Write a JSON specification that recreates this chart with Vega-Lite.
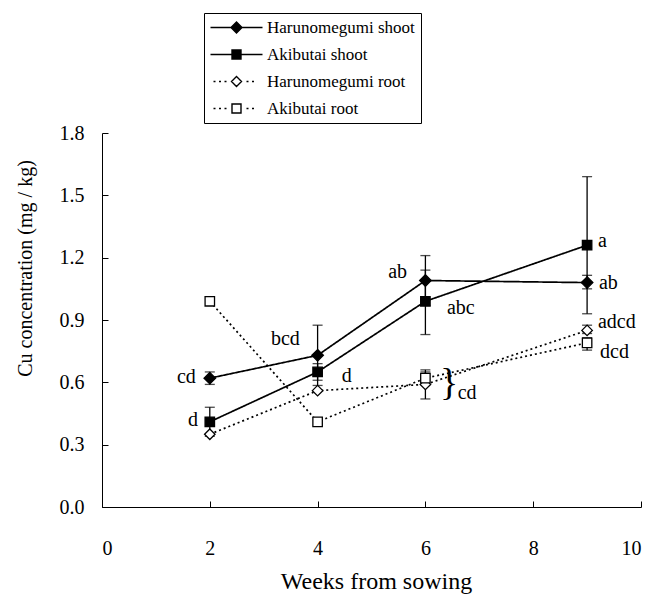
{
  "$schema": "https://vega.github.io/schema/vega-lite/v6.json",
  "width": 539,
  "height": 374,
  "autosize": {"type": "none"},
  "padding": {"left": 102, "top": 133, "right": 10, "bottom": 88},
  "background": "white",
  "config": {
    "view": {"stroke": null},
    "font": "Liberation Serif",
    "axis": {
      "grid": false,
      "domainColor": "black",
      "domainWidth": 1,
      "tickColor": "black",
      "tickWidth": 1,
      "tickSize": -6,
      "labelFont": "Liberation Serif",
      "labelFontSize": 20,
      "labelColor": "black",
      "titleFont": "Liberation Serif",
      "titleColor": "black",
      "titleFontWeight": "normal"
    }
  },
  "datasets": {
    "main": [
      {"series": "Harunomegumi shoot", "week": 2, "val": 0.62},
      {"series": "Harunomegumi shoot", "week": 4, "val": 0.73},
      {"series": "Harunomegumi shoot", "week": 6, "val": 1.09},
      {"series": "Harunomegumi shoot", "week": 9, "val": 1.08},
      {"series": "Akibutai shoot", "week": 2, "val": 0.41},
      {"series": "Akibutai shoot", "week": 4, "val": 0.65},
      {"series": "Akibutai shoot", "week": 6, "val": 0.99},
      {"series": "Akibutai shoot", "week": 9, "val": 1.26},
      {"series": "Harunomegumi root", "week": 2, "val": 0.35},
      {"series": "Harunomegumi root", "week": 4, "val": 0.56},
      {"series": "Harunomegumi root", "week": 6, "val": 0.59},
      {"series": "Harunomegumi root", "week": 9, "val": 0.85},
      {"series": "Akibutai root", "week": 2, "val": 0.99},
      {"series": "Akibutai root", "week": 4, "val": 0.41},
      {"series": "Akibutai root", "week": 6, "val": 0.62},
      {"series": "Akibutai root", "week": 9, "val": 0.79}
    ],
    "err": [
      {"series": "Harunomegumi shoot", "week": 2, "val": 0.59, "hi": 0.65},
      {"series": "Harunomegumi shoot", "week": 4, "val": 0.585, "hi": 0.875},
      {"series": "Harunomegumi shoot", "week": 6, "val": 0.97, "hi": 1.21},
      {"series": "Harunomegumi shoot", "week": 9, "val": 1.05, "hi": 1.115},
      {"series": "Akibutai shoot", "week": 2, "val": 0.34, "hi": 0.48},
      {"series": "Akibutai shoot", "week": 4, "val": 0.61, "hi": 0.69},
      {"series": "Akibutai shoot", "week": 6, "val": 0.83, "hi": 1.14},
      {"series": "Akibutai shoot", "week": 9, "val": 0.93, "hi": 1.59},
      {"series": "Harunomegumi root", "week": 6, "val": 0.52, "hi": 0.66},
      {"series": "Harunomegumi root", "week": 9, "val": 0.835, "hi": 0.875},
      {"series": "Akibutai root", "week": 6, "val": 0.59, "hi": 0.65},
      {"series": "Akibutai root", "week": 9, "val": 0.755, "hi": 0.815}
    ],
    "labR": [
      {"week": 1.74, "val": 0.625, "txt": "cd"},
      {"week": 1.78, "val": 0.42, "txt": "d"},
      {"week": 3.67, "val": 0.81, "txt": "bcd"},
      {"week": 5.66, "val": 1.13, "txt": "ab"}
    ],
    "labL": [
      {"week": 4.45, "val": 0.63, "txt": "d"},
      {"week": 6.4, "val": 0.96, "txt": "abc"},
      {"week": 9.2, "val": 1.28, "txt": "a"},
      {"week": 9.22, "val": 1.08, "txt": "ab"},
      {"week": 9.2, "val": 0.89, "txt": "adcd"},
      {"week": 9.24, "val": 0.745, "txt": "dcd"},
      {"week": 6.6, "val": 0.55, "txt": "cd"}
    ],
    "brace": [
      {"week": 6.44, "val": 0.59, "txt": "}"}
    ],
    "leg": [
      {"series": "Harunomegumi shoot"},
      {"series": "Akibutai shoot"},
      {"series": "Harunomegumi root"},
      {"series": "Akibutai root"}
    ]
  },
  "layer": [
    {
      "data": {"name": "main"},
      "mark": {"type": "line", "stroke": "black", "strokeWidth": 1.7},
      "encoding": {
        "x": {
          "field": "week", "type": "quantitative", "title": "Weeks from sowing",
          "scale": {"domain": [0, 10], "nice": false, "zero": false},
          "axis": {
            "values": [0, 2, 4, 6, 8, 10], "format": "d",
            "labelBaseline": "middle", "labelPadding": 47,
            "titleFontSize": 24,
            "titleX": 274, "titleY": 74, "titleBaseline": "middle"
          }
        },
        "y": {
          "field": "val", "type": "quantitative", "title": "Cu concentration (mg / kg)",
          "scale": {"domain": [0, 1.8], "nice": false, "zero": false},
          "axis": {
            "values": [0, 0.3, 0.6, 0.9, 1.2, 1.5, 1.8], "format": ".1f",
            "labelPadding": 24,
            "titleFontSize": 20,
            "titleX": -77, "titleY": 135, "titleBaseline": "middle", "titleAngle": -90
          }
        },
        "strokeDash": {
          "field": "series", "type": "nominal", "legend": null,
          "scale": {
            "domain": ["Harunomegumi shoot", "Akibutai shoot", "Harunomegumi root", "Akibutai root"],
            "range": [[1, 0], [1, 0], [2, 3], [2, 3]]
          }
        }
      }
    },
    {
      "data": {"name": "err"},
      "mark": {"type": "rule", "stroke": "black", "strokeWidth": 1.3},
      "encoding": {
        "x": {"field": "week", "type": "quantitative", "title": "Weeks from sowing"},
        "y": {"field": "val", "type": "quantitative", "title": "Cu concentration (mg / kg)"},
        "y2": {"field": "hi"}
      }
    },
    {
      "data": {"name": "err"},
      "mark": {"type": "tick", "orient": "horizontal", "color": "black", "size": 10, "thickness": 1.3},
      "encoding": {
        "x": {"field": "week", "type": "quantitative", "title": "Weeks from sowing"},
        "y": {"field": "val", "type": "quantitative", "title": "Cu concentration (mg / kg)"}
      }
    },
    {
      "data": {"name": "err"},
      "mark": {"type": "tick", "orient": "horizontal", "color": "black", "size": 10, "thickness": 1.3},
      "encoding": {
        "x": {"field": "week", "type": "quantitative", "title": "Weeks from sowing"},
        "y": {"field": "hi", "type": "quantitative", "title": "Cu concentration (mg / kg)"}
      }
    },
    {
      "data": {"name": "main"},
      "mark": {"type": "point", "filled": true, "stroke": "black", "strokeWidth": 1.3, "size": 110, "opacity": 1},
      "encoding": {
        "x": {"field": "week", "type": "quantitative", "title": "Weeks from sowing"},
        "y": {"field": "val", "type": "quantitative", "title": "Cu concentration (mg / kg)"},
        "shape": {
          "field": "series", "type": "nominal", "legend": null,
          "scale": {
            "domain": ["Harunomegumi shoot", "Akibutai shoot", "Harunomegumi root", "Akibutai root"],
            "range": ["M0,-1.1L1.1,0L0,1.1L-1.1,0Z", "M-0.9,-0.9H0.9V0.9H-0.9Z", "M0,-1L1,0L0,1L-1,0Z", "M-0.9,-0.9H0.9V0.9H-0.9Z"]
          }
        },
        "fill": {
          "field": "series", "type": "nominal", "legend": null,
          "scale": {
            "domain": ["Harunomegumi shoot", "Akibutai shoot", "Harunomegumi root", "Akibutai root"],
            "range": ["black", "black", "white", "white"]
          }
        }
      }
    },
    {
      "data": {"name": "labR"},
      "mark": {"type": "text", "align": "right", "baseline": "middle", "font": "Liberation Serif", "fontSize": 20, "color": "black"},
      "encoding": {
        "x": {"field": "week", "type": "quantitative", "title": "Weeks from sowing"},
        "y": {"field": "val", "type": "quantitative", "title": "Cu concentration (mg / kg)"},
        "text": {"field": "txt"}
      }
    },
    {
      "data": {"name": "labL"},
      "mark": {"type": "text", "align": "left", "baseline": "middle", "font": "Liberation Serif", "fontSize": 20, "color": "black"},
      "encoding": {
        "x": {"field": "week", "type": "quantitative", "title": "Weeks from sowing"},
        "y": {"field": "val", "type": "quantitative", "title": "Cu concentration (mg / kg)"},
        "text": {"field": "txt"}
      }
    },
    {
      "data": {"name": "brace"},
      "mark": {"type": "text", "align": "center", "baseline": "middle", "font": "Liberation Serif", "fontSize": 38, "color": "black"},
      "encoding": {
        "x": {"field": "week", "type": "quantitative", "title": "Weeks from sowing"},
        "y": {"field": "val", "type": "quantitative", "title": "Cu concentration (mg / kg)"},
        "text": {"field": "txt"}
      }
    },
    {
      "data": {"name": "leg"},
      "mark": {"type": "point", "filled": true, "stroke": "black", "opacity": 0},
      "encoding": {
        "shape": {
          "field": "series", "type": "nominal",
          "scale": {
            "domain": ["Harunomegumi shoot", "Akibutai shoot", "Harunomegumi root", "Akibutai root"],
            "range": [
              "M-5.2,0H-1.1M1.1,0H5.2M0,-1.1L1.1,0L0,1.1L-1.1,0Z",
              "M-5.2,0H-0.9M0.9,0H5.2M-0.9,-0.9H0.9V0.9H-0.9Z",
              "M-4.6,0H-4.2M-3.5,0H-3.1M-2.4,0H-2M2,0H2.4M3.1,0H3.5M0,-1L1,0L0,1L-1,0Z",
              "M-4.6,0H-4.2M-3.5,0H-3.1M-2.4,0H-2M2,0H2.4M3.1,0H3.5M-0.9,-0.9H0.9V0.9H-0.9Z"
            ]
          },
          "legend": {
            "orient": "none", "legendX": 102, "legendY": -120, "title": null,
            "strokeColor": "black", "padding": 6, "symbolSize": 100,
            "symbolStrokeWidth": 1.4, "symbolStrokeColor": "black", "symbolOpacity": 1,
            "symbolOffset": 18, "labelOffset": 22, "labelFont": "Liberation Serif",
            "labelFontSize": 17, "labelColor": "black", "rowPadding": 9, "labelLimit": 0
          }
        },
        "fill": {
          "field": "series", "type": "nominal",
          "scale": {
            "domain": ["Harunomegumi shoot", "Akibutai shoot", "Harunomegumi root", "Akibutai root"],
            "range": ["black", "black", "white", "white"]
          },
          "legend": {
            "orient": "none", "legendX": 102, "legendY": -120, "title": null,
            "strokeColor": "black", "padding": 6, "symbolSize": 100,
            "symbolStrokeWidth": 1.4, "symbolStrokeColor": "black", "symbolOpacity": 1,
            "symbolOffset": 18, "labelOffset": 22, "labelFont": "Liberation Serif",
            "labelFontSize": 17, "labelColor": "black", "rowPadding": 9, "labelLimit": 0
          }
        },
        "stroke": {
          "field": "series", "type": "nominal",
          "scale": {
            "domain": ["Harunomegumi shoot", "Akibutai shoot", "Harunomegumi root", "Akibutai root"],
            "range": ["black", "black", "black", "black"]
          },
          "legend": {
            "orient": "none", "legendX": 102, "legendY": -120, "title": null,
            "strokeColor": "black", "padding": 6, "symbolSize": 100,
            "symbolStrokeWidth": 1.4, "symbolStrokeColor": "black", "symbolOpacity": 1,
            "symbolOffset": 18, "labelOffset": 22, "labelFont": "Liberation Serif",
            "labelFontSize": 17, "labelColor": "black", "rowPadding": 9, "labelLimit": 0
          }
        }
      }
    }
  ],
  "resolve": {"scale": {"shape": "independent", "fill": "independent", "stroke": "independent"}}
}
